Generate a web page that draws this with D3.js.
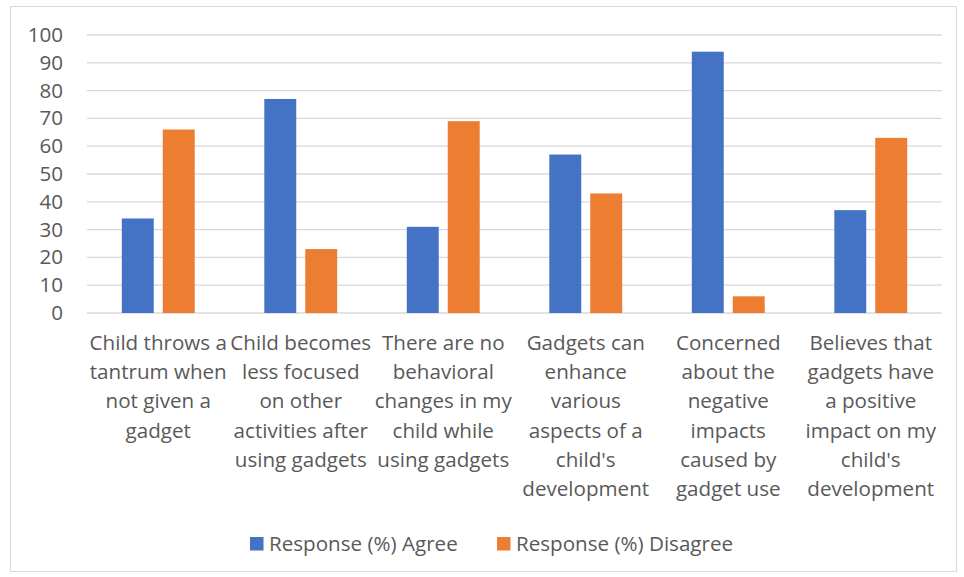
<!DOCTYPE html>
<html>
<head>
<meta charset="utf-8">
<script src="https://cdn.jsdelivr.net/npm/d3@7"></script>
<style>
  body { margin: 0; background: #fff; }
  text { font-family: "Open Sans", sans-serif; fill: #595959; }
</style>
</head>
<body>
<div id="chart"></div>
<script>
var svgWidth = 964;
var svgHeight = 577;

var margin = { top: 35, right: 22, bottom: 264, left: 87 };
var chartWidth = 942 - margin.left;
var chartHeight = 313 - margin.top;
var fontSize = 20.6;

// data
var categories = [
  ["Child throws a", "tantrum when", "not given a", "gadget"],
  ["Child becomes", "less focused", "on other", "activities after", "using gadgets"],
  ["There are no", "behavioral", "changes in my", "child while", "using gadgets"],
  ["Gadgets can", "enhance", "various", "aspects of a", "child's", "development"],
  ["Concerned", "about the", "negative", "impacts", "caused by", "gadget use"],
  ["Believes that", "gadgets have", "a positive", "impact on my", "child's", "development"]
];
var seriesNames = ["Response (%) Agree", "Response (%) Disagree"];
var agreeValues = [34, 77, 31, 57, 94, 37];
var disagreeValues = [66, 23, 69, 43, 6, 63];
var yTicks = [0, 10, 20, 30, 40, 50, 60, 70, 80, 90, 100];
var colors = ["#4472C4", "#ED7D31"];

var svg = d3.select("#chart")
  .append("svg")
  .attr("width", svgWidth)
  .attr("height", svgHeight);

// outer frame
svg.append("rect")
  .attr("x", 10.5)
  .attr("y", 6.5)
  .attr("width", 946)
  .attr("height", 565)
  .attr("fill", "none")
  .attr("stroke", "#d9d9d9")
  .attr("stroke-width", 1);

var chartGroup = svg.append("g")
  .attr("transform", `translate(${margin.left}, ${margin.top})`);

var catIndex = categories.map((d, i) => i);

var x0 = d3.scaleBand()
  .domain(catIndex)
  .range([0, chartWidth]);

var x1 = d3.scaleBand()
  .domain([0, 1])
  .range([0, x0.bandwidth()])
  .paddingInner(0.22)
  .paddingOuter(0.85);

var y = d3.scaleLinear()
  .domain([0, 100])
  .range([chartHeight, 0]);

// gridlines
chartGroup.selectAll("line.grid")
  .data(yTicks)
  .enter()
  .append("line")
  .attr("x1", 0)
  .attr("x2", chartWidth)
  .attr("y1", d => y(d))
  .attr("y2", d => y(d))
  .attr("stroke", "#d9d9d9")
  .attr("stroke-width", 1.3);

// y axis labels
var leftAxis = d3.axisLeft(y)
  .tickValues(yTicks)
  .tickSize(0)
  .tickPadding(24);

var yAxis = chartGroup.append("g").call(leftAxis);
yAxis.select(".domain").remove();
yAxis.selectAll("text")
  .attr("font-size", fontSize)
  .attr("font-family", "Open Sans, sans-serif")
  .attr("fill", "#595959");

// bars
var rows = catIndex.map(i => [agreeValues[i], disagreeValues[i]]);

var groups = chartGroup.selectAll("g.cat")
  .data(rows)
  .enter()
  .append("g")
  .attr("transform", (d, i) => `translate(${x0(i)}, 0)`);

groups.selectAll("rect")
  .data(d => d)
  .enter()
  .append("rect")
  .attr("x", (d, j) => x1(j))
  .attr("y", d => y(d))
  .attr("width", x1.bandwidth())
  .attr("height", d => chartHeight - y(d))
  .attr("fill", (d, j) => colors[j]);

// category labels
var labels = chartGroup.selectAll("text.cat")
  .data(categories)
  .enter()
  .append("text")
  .attr("x", (d, i) => x0(i) + x0.bandwidth() / 2)
  .attr("y", chartHeight + 37)
  .attr("text-anchor", "middle")
  .attr("font-size", fontSize);

labels.selectAll("tspan")
  .data(d => d)
  .enter()
  .append("tspan")
  .attr("x", function () { return d3.select(this.parentNode).attr("x"); })
  .attr("dy", (d, i) => i === 0 ? 0 : 29.2)
  .text(d => d);

// legend
var legendX = [250, 497];
var legend = svg.selectAll("g.legend")
  .data(seriesNames)
  .enter()
  .append("g")
  .attr("transform", (d, i) => `translate(${legendX[i]}, 537)`);

legend.append("rect")
  .attr("width", 13.5)
  .attr("height", 13.5)
  .attr("fill", (d, i) => colors[i]);

legend.append("text")
  .attr("x", 19)
  .attr("y", 13.5)
  .attr("font-size", fontSize)
  .text(d => d);
</script>
</body>
</html>
